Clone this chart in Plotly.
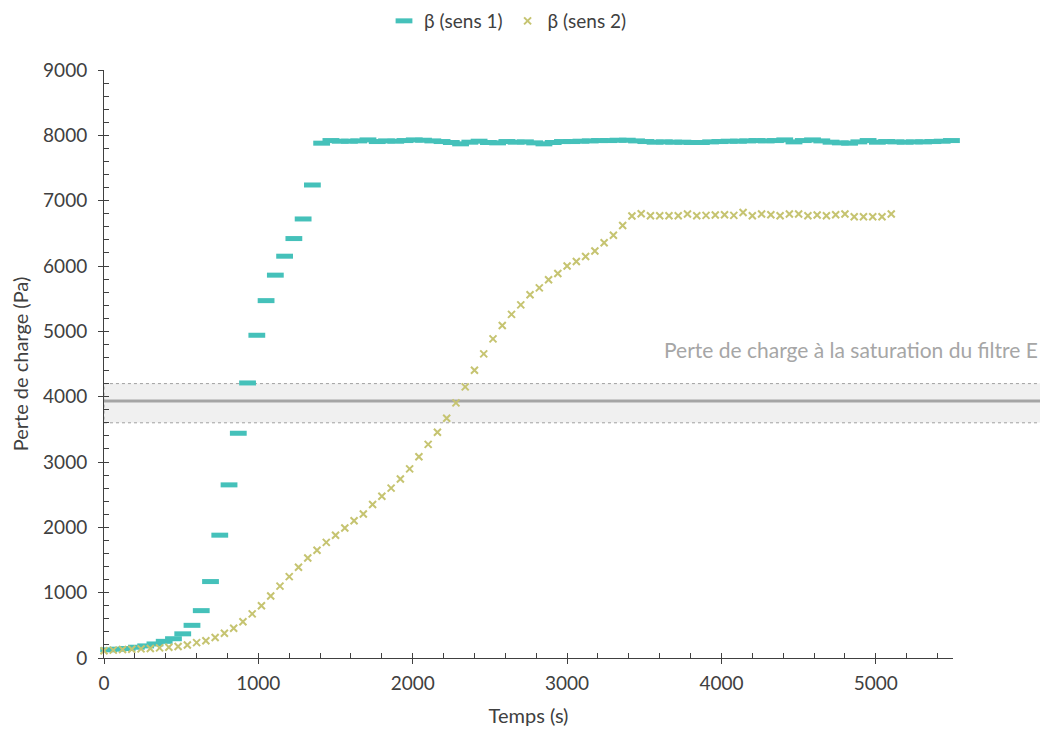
import plotly.graph_objects as go

# ---- data ----
time_sens1 = [
    30, 90, 150, 210, 270, 330, 390, 450, 510, 570,
    630, 690, 750, 810, 870, 930, 990, 1050, 1110, 1170,
    1230, 1290, 1350, 1410, 1470, 1530, 1590, 1650, 1710, 1770,
    1830, 1890, 1950, 2010, 2070, 2130, 2190, 2250, 2310, 2370,
    2430, 2490, 2550, 2610, 2670, 2730, 2790, 2850, 2910, 2970,
    3030, 3090, 3150, 3210, 3270, 3330, 3390, 3450, 3510, 3570,
    3630, 3690, 3750, 3810, 3870, 3930, 3990, 4050, 4110, 4170,
    4230, 4290, 4350, 4410, 4470, 4530, 4590, 4650, 4710, 4770,
    4830, 4890, 4950, 5010, 5070, 5130, 5190, 5250, 5310, 5370,
    5430, 5490,
]
beta_sens1 = [
    125, 135, 145, 165, 185, 215, 255, 295, 370, 500,
    725, 1170, 1880, 2650, 3440, 4210, 4940, 5470, 5860, 6150,
    6420, 6720, 7240, 7880, 7920, 7910, 7910, 7915, 7930, 7905,
    7915, 7910, 7920, 7930, 7925, 7915, 7905, 7890, 7870, 7895,
    7910, 7890, 7885, 7905, 7895, 7900, 7885, 7870, 7890, 7905,
    7905, 7910, 7915, 7920, 7920, 7925, 7925, 7915, 7905, 7895,
    7900, 7895, 7895, 7890, 7890, 7900, 7905, 7910, 7910, 7915,
    7920, 7915, 7920, 7930, 7900, 7920, 7930, 7915, 7895, 7885,
    7880, 7900, 7920, 7895, 7905, 7900, 7895, 7900, 7900, 7905,
    7910, 7920,
]
time_sens2 = [
    0, 60, 120, 180, 240, 300, 360, 420, 480, 540,
    600, 660, 720, 780, 840, 900, 960, 1020, 1080, 1140,
    1200, 1260, 1320, 1380, 1440, 1500, 1560, 1620, 1680, 1740,
    1800, 1860, 1920, 1980, 2040, 2100, 2160, 2220, 2280, 2340,
    2400, 2460, 2520, 2580, 2640, 2700, 2760, 2820, 2880, 2940,
    3000, 3060, 3120, 3180, 3240, 3300, 3360, 3420, 3480, 3540,
    3600, 3660, 3720, 3780, 3840, 3900, 3960, 4020, 4080, 4140,
    4200, 4260, 4320, 4380, 4440, 4500, 4560, 4620, 4680, 4740,
    4800, 4860, 4920, 4980, 5040, 5100,
]
beta_sens2 = [
    110, 120, 130, 135, 140, 145, 155, 165, 175, 200,
    235, 265, 315, 380, 455, 555, 675, 800, 950, 1100,
    1245, 1390, 1530, 1650, 1770, 1880, 1990, 2100, 2205, 2350,
    2475, 2600, 2740, 2895, 3080, 3270, 3455, 3670, 3905, 4150,
    4405, 4655, 4885, 5090, 5260, 5405, 5560, 5665, 5790, 5885,
    6000, 6070, 6145, 6230, 6355, 6470, 6620, 6765, 6800, 6770,
    6770, 6770, 6770, 6795, 6770, 6775, 6780, 6785, 6775, 6820,
    6770, 6795, 6785, 6770, 6795, 6795, 6770, 6780, 6770, 6785,
    6795, 6755, 6755, 6755, 6755, 6795,
]
saturation_mean = 3935
saturation_low = 3600
saturation_high = 4200
saturation_label = "Perte de charge à la saturation du filtre E"

FONT = "Lato, 'Open Sans', sans-serif"
TXT = "#404040"

fig = go.Figure()
fig.add_trace(go.Scatter(
    x=time_sens1, y=beta_sens1, mode="markers", name="β (sens 1)",
    cliponaxis=False,
    marker=dict(symbol="line-ew", size=12, color="#45C1BA",
                line=dict(color="#45C1BA", width=5)),
))
fig.add_trace(go.Scatter(
    x=time_sens2, y=beta_sens2, mode="markers", name="β (sens 2)",
    cliponaxis=False,
    marker=dict(symbol="x-thin", size=7, color="#C6C471",
                line=dict(color="#C6C471", width=2)),
))
# helper trace for overlay axes (outer half of the crossing major ticks)
fig.add_trace(go.Scatter(x=[None], y=[None], xaxis="x2", yaxis="y2",
                         showlegend=False, hoverinfo="skip"))

# saturation band and line
fig.add_shape(type="rect", xref="paper", yref="y", x0=0, x1=1.12,
              y0=saturation_low, y1=saturation_high, layer="below",
              fillcolor="#F0F0F0", line=dict(color="#A0A0A0", width=1, dash="dot"))
fig.add_shape(type="line", xref="paper", yref="y", x0=0, x1=1.12,
              y0=saturation_mean, y1=saturation_mean, layer="below",
              line=dict(color="#A5A5A5", width=3))
fig.add_annotation(text=saturation_label, xref="paper", yref="y",
                   x=1.102, y=4715, xanchor="right", yanchor="middle",
                   showarrow=False, font=dict(family=FONT, size=21, color="#A6A6A6"))

axis_common = dict(showgrid=False, zeroline=False, showline=True,
                   linecolor=TXT, linewidth=1, tickcolor=TXT, automargin=False,
                   tickfont=dict(family=FONT, size=19, color=TXT))

fig.update_layout(
    width=1040, height=727,
    margin=dict(l=95.5, r=95, t=62, b=77),
    paper_bgcolor="white", plot_bgcolor="white",
    font=dict(family=FONT, color=TXT),
    xaxis=dict(range=[0, 5500], dtick=1000, ticks="inside", ticklen=5,
               ticklabelstandoff=8,
               minor=dict(dtick=200, ticks="inside", ticklen=5, tickcolor=TXT),
               title=dict(text="Temps (s)", font=dict(family=FONT, size=20, color=TXT), standoff=16),
               **axis_common),
    yaxis=dict(range=[0, 9000], dtick=1000, ticks="inside", ticklen=5,
               ticklabelstandoff=12,
               minor=dict(dtick=200, ticks="inside", ticklen=5, tickcolor=TXT),
               title=dict(text="Perte de charge (Pa)", font=dict(family=FONT, size=20, color=TXT), standoff=18),
               **axis_common),
    xaxis2=dict(range=[0, 5500], dtick=1000, overlaying="x", anchor="y2", side="bottom",
                ticks="outside", ticklen=5, tickcolor=TXT, showticklabels=False,
                showgrid=False, zeroline=False, showline=False),
    yaxis2=dict(range=[0, 9000], dtick=1000, overlaying="y", anchor="x2", side="left",
                ticks="outside", ticklen=5, tickcolor=TXT, showticklabels=False,
                showgrid=False, zeroline=False, showline=False),
    showlegend=True,
    legend=dict(orientation="h", xref="container", yref="container",
                x=500 / 1040, xanchor="center", y=1 - 13 / 727, yanchor="middle",
                bgcolor="rgba(0,0,0,0)",
                font=dict(family=FONT, size=19, color=TXT),
                itemwidth=30, tracegroupgap=0),
)

fig.write_html("out.html")
